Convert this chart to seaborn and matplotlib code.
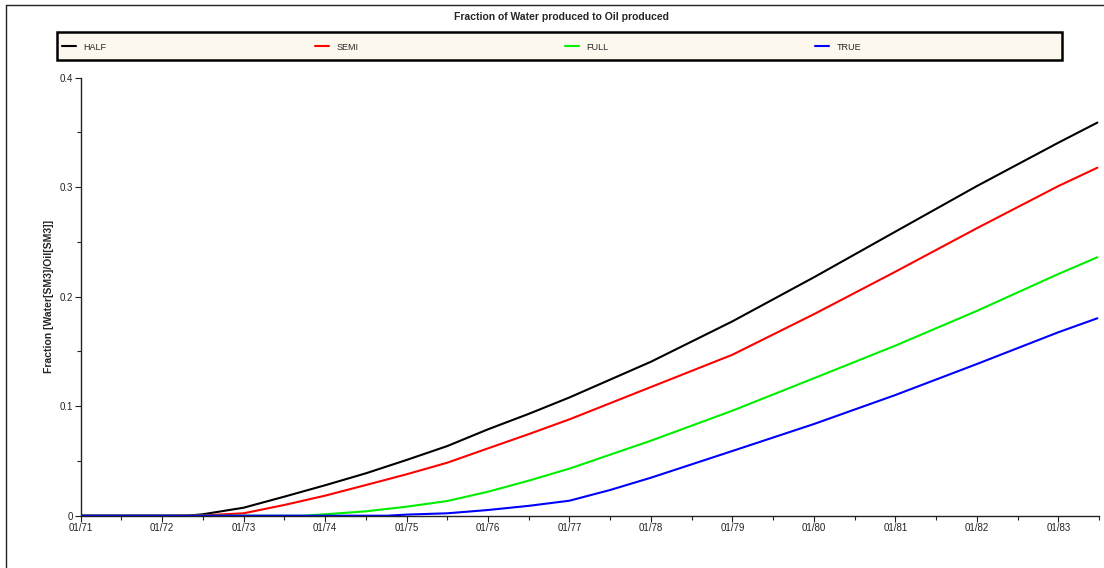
import numpy as np
import pandas as pd
import matplotlib
matplotlib.use("Agg")
import matplotlib.pyplot as plt
from matplotlib.lines import Line2D
from matplotlib.patches import Rectangle
import seaborn as sns

# ---- data (time in fractional years) ----
half_t = [1971.0, 1972.0, 1972.3, 1972.5, 1973.0, 1973.5, 1974.0, 1974.5, 1975.0, 1975.5, 1976.0, 1976.5,
          1977.0, 1978.0, 1979.0, 1980.0, 1981.0, 1982.0, 1983.0, 1983.48]
half_v = [0.0, 0.0, 0.0, 0.0013, 0.0073, 0.0174, 0.0278, 0.0387, 0.0509, 0.0636, 0.0789, 0.093,
          0.108, 0.1406, 0.1775, 0.2177, 0.2594, 0.301, 0.3406, 0.359]

semi_t = [1971.0, 1972.0, 1972.5, 1973.0, 1973.5, 1974.0, 1974.5, 1975.0, 1975.5, 1976.0, 1976.5,
          1977.0, 1978.0, 1979.0, 1980.0, 1981.0, 1982.0, 1983.0, 1983.48]
semi_v = [0.0, 0.0, 0.0003, 0.0022, 0.0098, 0.0183, 0.028, 0.0378, 0.0484, 0.0615, 0.0745,
          0.088, 0.1175, 0.147, 0.184, 0.2228, 0.2625, 0.301, 0.3178]

full_t = [1971.0, 1973.73, 1974.0, 1974.5, 1975.0, 1975.5, 1976.0, 1976.5,
          1977.0, 1978.0, 1979.0, 1980.0, 1981.0, 1982.0, 1983.0, 1983.48]
full_v = [0.0, 0.0, 0.0013, 0.004, 0.0082, 0.0134, 0.0219, 0.032,
          0.043, 0.0685, 0.0959, 0.1255, 0.1553, 0.187, 0.2207, 0.236]

true_t = [1971.0, 1974.76, 1975.0, 1975.5, 1976.0, 1976.5,
          1977.0, 1977.5, 1978.0, 1979.0, 1980.0, 1981.0, 1982.0, 1983.0, 1983.48]
true_v = [0.0, 0.0, 0.001, 0.0022, 0.0052, 0.009,
          0.0137, 0.0235, 0.0347, 0.0591, 0.0837, 0.1102, 0.1385, 0.1675, 0.1803]

series_names = ["HALF", "SEMI", "FULL", "TRUE"]
series_colors = ["#000000", "#ff0000", "#00ee00", "#0000ff"]

x_ticks = [1971, 1972, 1973, 1974, 1975, 1976, 1977, 1978, 1979, 1980, 1981, 1982, 1983]
x_tick_labels = ["01/71", "01/72", "01/73", "01/74", "01/75", "01/76", "01/77",
                 "01/78", "01/79", "01/80", "01/81", "01/82", "01/83"]
y_ticks = [0.0, 0.1, 0.2, 0.3, 0.4]
y_tick_labels = ["0", "0.1", "0.2", "0.3", "0.4"]

frames = []
for name, t, v in zip(series_names, [half_t, semi_t, full_t, true_t], [half_v, semi_v, full_v, true_v]):
    frames.append(pd.DataFrame({"time": t, "value": v, "series": name}))
df = pd.concat(frames, ignore_index=True)

sns.set_style("white")
plt.rcParams["font.family"] = ["Liberation Sans", "DejaVu Sans"]

W, H = 1104, 568
fig = plt.figure(figsize=(W / 100, H / 100), dpi=100)
ax = fig.add_axes([80.7 / W, 1 - 515.7 / H, (1099 - 80.7) / W, (515.7 - 77.7) / H])

sns.lineplot(data=df, x="time", y="value", hue="series", hue_order=series_names,
             palette=series_colors, linewidth=1.5, ax=ax, legend=False,
             estimator=None, sort=False)

ax.set_xlim(1971.0, 1983.48)
ax.set_ylim(0, 0.4)
ax.set_xticks(x_ticks)
ax.set_xticklabels(x_tick_labels)
ax.set_xticks([y + 0.5 for y in x_ticks], minor=True)
ax.set_yticks(y_ticks)
ax.set_yticklabels(y_tick_labels)
ax.set_yticks([0.05, 0.15, 0.25, 0.35], minor=True)
ax.tick_params(axis="both", which="major", direction="out", length=4, width=0.8,
               labelsize=7, colors="#222222", pad=1.5)
ax.tick_params(axis="both", which="minor", direction="out", length=3, width=0.8, colors="#222222")
ax.tick_params(axis="x", which="both", bottom=True)
ax.tick_params(axis="y", which="both", left=True)
for s in ["top", "right"]:
    ax.spines[s].set_visible(False)
for s in ["left", "bottom"]:
    ax.spines[s].set_color("#222222")
    ax.spines[s].set_linewidth(1.0)

ax.set_xlabel("")
ax.set_ylabel("Fraction [Water[SM3]/Oil[SM3]]", fontsize=7.5, fontweight="bold", labelpad=4)

fig.text(0.509, 0.970, "Fraction of Water produced to Oil produced", ha="center", va="center",
         fontsize=7.5, fontweight="bold")

# legend box
fig.add_artist(Rectangle((57 / W, 1 - 60 / H), (1062 - 57) / W, 28 / H, transform=fig.transFigure,
                         facecolor="#fdf8ee", edgecolor="#000000", linewidth=1.8, zorder=1))
handles = [Line2D([0], [0], color=c, lw=1.5) for c in series_colors]
starts = [62, 315, 565, 815]
for h, name, x0 in zip(handles, series_names, starts):
    lg = fig.legend([h], [name], loc="center left", bbox_to_anchor=(x0 / W, 1 - 47 / H),
                    fontsize=6.5, frameon=False, borderaxespad=0, borderpad=0,
                    handlelength=1.6, handletextpad=0.8)
    lg.set_zorder(2)

# outer frame lines
fig.add_artist(Line2D([6.4 / W, 6.4 / W], [0.0, 1 - 5.4 / H], transform=fig.transFigure, color="#222222", lw=1.0))
fig.add_artist(Line2D([6.4 / W, 1.0], [1 - 5.4 / H, 1 - 5.4 / H], transform=fig.transFigure, color="#222222", lw=1.0))

fig.savefig("out.png", dpi=100)
